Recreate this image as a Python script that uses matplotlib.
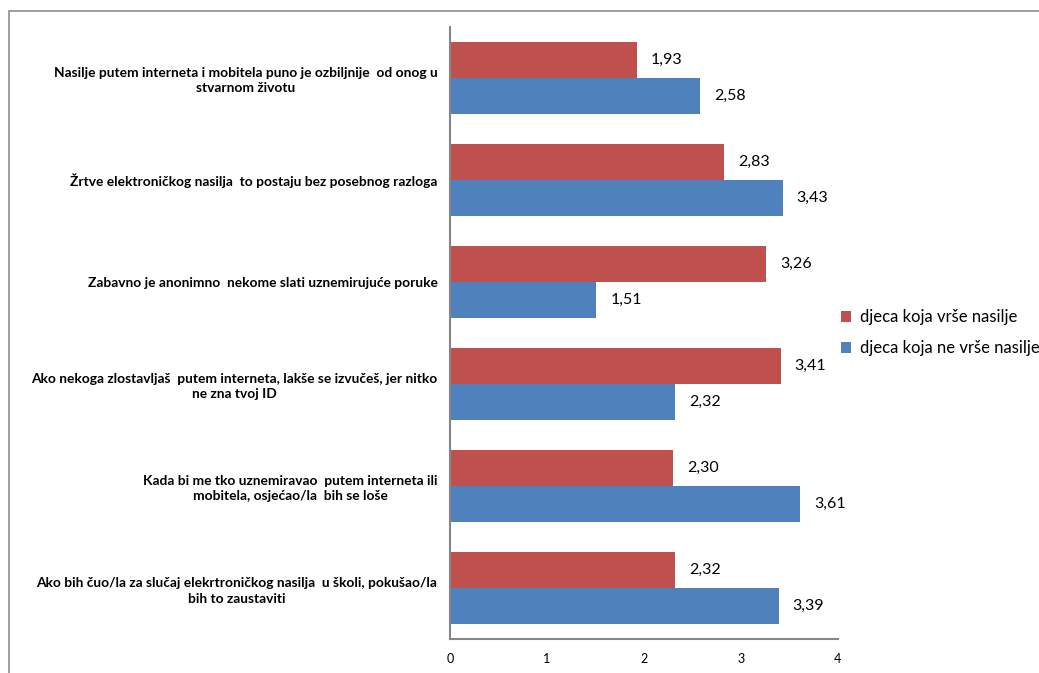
import matplotlib
matplotlib.use("Agg")
import matplotlib.pyplot as plt
import numpy as np
from matplotlib.patches import Rectangle

kategorije = [
    "Nasilje putem interneta i mobitela puno je ozbiljnije  od onog u\nstvarnom životu",
    "Žrtve elektroničkog nasilja  to postaju bez posebnog razloga",
    "Zabavno je anonimno  nekome slati uznemirujuće poruke",
    "Ako nekoga zlostavljaš  putem interneta, lakše se izvučeš, jer nitko\nne zna tvoj ID",
    "Kada bi me tko uznemiravao  putem interneta ili\nmobitela, osjećao/la  bih se loše",
    "Ako bih čuo/la za slučaj elekrtroničkog nasilja  u školi, pokušao/la\nbih to zaustaviti",
]
vrse_nasilje = [1.93, 2.83, 3.26, 3.41, 2.30, 2.32]
ne_vrse_nasilje = [2.58, 3.43, 1.51, 2.32, 3.61, 3.39]
x_ticks = [0, 1, 2, 3, 4]

crvena = '#C0504D'
plava = '#4F81BD'

plt.rcParams['font.family'] = ['Lato', 'DejaVu Sans']

fig = plt.figure(figsize=(10.39, 6.73), dpi=100)
ax = fig.add_axes([0.433, 0.0505, 0.3735, 0.9095])

y = np.arange(len(kategorije))
h = 0.35
b1 = ax.barh(y - h / 2, vrse_nasilje, height=h, color=crvena, label='djeca koja vrše nasilje')
b2 = ax.barh(y + h / 2, ne_vrse_nasilje, height=h, color=plava, label='djeca koja ne vrše nasilje')

for bars in (b1, b2):
    ax.bar_label(bars, labels=[f"{v:.2f}".replace('.', ',') for v in bars.datavalues],
                 padding=10, fontsize=11.5)

ax.set_xlim(0, 4)
ax.set_ylim(len(kategorije) - 0.5, -0.5)
ax.set_xticks(x_ticks)
ax.set_xticklabels([str(t) for t in x_ticks], fontsize=9)
ax.set_yticks(y)
ax.set_yticklabels(kategorije, fontsize=9.9, fontweight='bold', linespacing=1.35)
for lab in ax.get_yticklabels():
    lab.set_multialignment('center')
ax.tick_params(axis='both', length=0)
ax.tick_params(axis='x', pad=10)
ax.tick_params(axis='y', pad=9)

for s in ['top', 'right']:
    ax.spines[s].set_visible(False)
for s in ['left', 'bottom']:
    ax.spines[s].set_color('#868686')
    ax.spines[s].set_linewidth(1.5)

ax.legend(loc='center left', bbox_to_anchor=(0.97, 0.5), frameon=False,
          fontsize=12, handlelength=0.6, handleheight=0.6, handletextpad=0.5,
          labelspacing=0.9)

# okvir grafikona
fig.add_artist(Rectangle((9 / 1039, -0.1), 1.2, 1.1 - 11 / 673, transform=fig.transFigure,
                         fill=False, edgecolor='#8c8c8c', linewidth=1.2))

fig.savefig('out.png', dpi=100)
